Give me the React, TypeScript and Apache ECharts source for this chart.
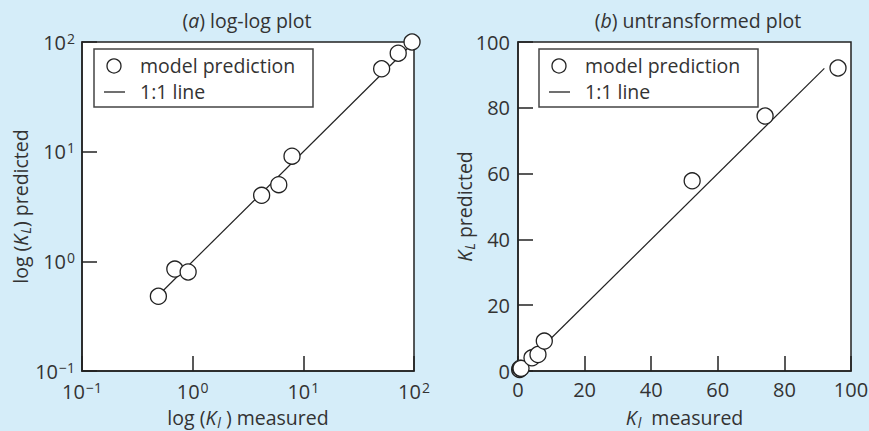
import React, { useEffect, useRef } from "react";
import * as echarts from "echarts";

// Panel (a): log-log plot
const logMeasured = [0.49, 0.69, 0.91, 4.2, 6.0, 7.9, 51, 72, 96];
const logPredicted = [0.48, 0.85, 0.8, 4.0, 5.0, 9.1, 57, 79, 100];
const logOneToOne = [0.52, 100];

// Panel (b): untransformed plot
const linMeasured = [0.49, 0.69, 0.91, 4.2, 6.0, 7.9, 52.3, 74.2, 96.1];
const linPredicted = [0.48, 0.85, 0.8, 4.0, 5.0, 9.1, 57.8, 77.5, 92.1];
const linOneToOne = [0, 92];

const linTicks = [0, 20, 40, 60, 80, 100];
const logTicks = [0.1, 1, 10, 100];

const titles = ["(a) log-log plot", "(b) untransformed plot"];
const legendLabels = ["model prediction", "1:1 line"];

const FONT = "'Open Sans', Lato, sans-serif";
const FS = 19.5;
const TFS = 20;
const INK = "#222";
const TXT = "#333";
const BG = "#d5edf9";

const supFmt = (v: number) => {
  const e = Math.round(Math.log10(v));
  return "{b|10}{sup|" + (e < 0 ? "\u2212" + Math.abs(e) : String(e)) + "}";
};

const tickRich = {
  b: { fontSize: TFS, fontFamily: FONT, color: TXT, lineHeight: 22 },
  sup: { fontSize: 14, fontFamily: FONT, color: TXT, verticalAlign: "top", lineHeight: 22, padding: [0, 0, 9, 1] },
};

const nameRich = {
  n: { fontSize: FS, fontFamily: FONT, color: TXT, lineHeight: 24 },
  i: { fontSize: FS, fontFamily: FONT, color: TXT, fontStyle: "italic", lineHeight: 24 },
  sub: { fontSize: 14, fontFamily: FONT, color: TXT, fontStyle: "italic", lineHeight: 14, verticalAlign: "bottom", padding: [0, 0, 0, 1] },
};

function axisBase() {
  return {
    axisLine: { show: true, onZero: false, lineStyle: { color: INK, width: 1.5 } },
    axisTick: { show: true, inside: true, length: 15, lineStyle: { color: INK, width: 1.5 } },
    splitLine: { show: false },
    nameLocation: "middle" as const,
    nameMoveOverlap: false,
  };
}

export default function App() {
  const ref = useRef<HTMLDivElement>(null);
  useEffect(() => {
    if (!ref.current) return;
    const chart = echarts.init(ref.current, null, { renderer: "svg" });
    const legendGraphic = (x: number) => ({
      type: "group",
      children: [
        { type: "rect", shape: { x: x, y: 49, width: 219, height: 58 }, style: { fill: "#fff", stroke: "#444", lineWidth: 1.5 } },
        { type: "circle", shape: { cx: x + 20, cy: 66, r: 7 }, style: { fill: "#fff", stroke: INK, lineWidth: 1.3 } },
        { type: "line", shape: { x1: x + 10, y1: 92, x2: x + 31, y2: 92 }, style: { stroke: INK, lineWidth: 1.3 } },
        { type: "text", x: x + 46, y: 65, style: { text: legendLabels[0], font: FS + "px " + FONT, fill: TXT, verticalAlign: "middle" } },
        { type: "text", x: x + 46, y: 91, style: { text: legendLabels[1], font: FS + "px " + FONT, fill: TXT, verticalAlign: "middle" } },
      ],
    });
    const titleText = (x: number, label: string) => {
      const m = label.match(/^\((.)\)(.*)$/);
      return {
        type: "text",
        x,
        y: 20,
        style: {
          text: m ? "(" + "{i|" + m[1] + "})" + m[2] : label,
          font: FS + "px " + FONT,
          fill: TXT,
          align: "center",
          verticalAlign: "middle",
          rich: { i: { fontStyle: "italic", fontSize: FS, fontFamily: FONT, fill: TXT } },
        },
      };
    };
    const gridBase = {
      top: 42,
      height: 329,
      show: true,
      backgroundColor: "#fff",
      borderColor: INK,
      borderWidth: 1.5,
      containLabel: false,
      outerBoundsMode: "none",
    };
    const option: any = {
      animation: false,
      backgroundColor: BG,
      grid: [
        { ...gridBase, left: 82, width: 332 },
        { ...gridBase, left: 518, width: 333 },
      ],
      xAxis: [
        {
          ...axisBase(),
          gridIndex: 0,
          type: "log",
          logBase: 10,
          min: logTicks[0],
          max: logTicks[logTicks.length - 1],
          axisLabel: { formatter: supFmt, rich: tickRich, margin: 9 },
          name: "{n|log (}{i|K}{sub|l}{n| ) measured}",
          nameGap: 34,
          nameTextStyle: { rich: nameRich },
        },
        {
          ...axisBase(),
          gridIndex: 1,
          type: "value",
          min: linTicks[0],
          max: linTicks[linTicks.length - 1],
          interval: 20,
          axisLabel: { fontSize: TFS, fontFamily: FONT, color: TXT, margin: 8 },
          name: "{i|K}{sub|l}{n|  measured}",
          nameGap: 34,
          nameTextStyle: { rich: nameRich },
        },
      ],
      yAxis: [
        {
          ...axisBase(),
          gridIndex: 0,
          type: "log",
          logBase: 10,
          min: logTicks[0],
          max: logTicks[logTicks.length - 1],
          axisLabel: { formatter: supFmt, rich: tickRich, margin: 7 },
          name: "{n|log (}{i|K}{sub|L}{n|) predicted}",
          nameRotate: 90,
          nameGap: 50,
          nameTextStyle: { rich: nameRich },
        },
        {
          ...axisBase(),
          gridIndex: 1,
          type: "value",
          min: linTicks[0],
          max: linTicks[linTicks.length - 1],
          interval: 20,
          axisLabel: { fontSize: TFS, fontFamily: FONT, color: TXT, margin: 8 },
          name: "{i|K}{sub|L}{n| predicted}",
          nameRotate: 90,
          nameGap: 42,
          nameTextStyle: { rich: nameRich },
        },
      ],
      series: [
        {
          name: legendLabels[1],
          type: "line",
          xAxisIndex: 0,
          yAxisIndex: 0,
          data: logOneToOne.map((v) => [v, v]),
          symbol: "none",
          lineStyle: { color: INK, width: 1.2 },
          z: 2,
        },
        {
          name: legendLabels[0],
          type: "scatter",
          xAxisIndex: 0,
          yAxisIndex: 0,
          data: logMeasured.map((x, i) => [x, logPredicted[i]]),
          symbol: "circle",
          symbolSize: 16,
          itemStyle: { color: "#fff", borderColor: INK, borderWidth: 1.3, opacity: 1 },
          clip: false,
          z: 3,
        },
        {
          name: legendLabels[1],
          type: "line",
          xAxisIndex: 1,
          yAxisIndex: 1,
          data: linOneToOne.map((v) => [v, v]),
          symbol: "none",
          lineStyle: { color: INK, width: 1.2 },
          z: 2,
        },
        {
          name: legendLabels[0],
          type: "scatter",
          xAxisIndex: 1,
          yAxisIndex: 1,
          data: linMeasured.map((x, i) => [x, linPredicted[i]]),
          symbol: "circle",
          symbolSize: 16,
          itemStyle: { color: "#fff", borderColor: INK, borderWidth: 1.3, opacity: 1 },
          clip: false,
          z: 3,
        },
      ],
      graphic: [
        titleText(247, titles[0]),
        titleText(698, titles[1]),
        legendGraphic(94),
        legendGraphic(539),
      ],
    };
    chart.setOption(option);
    return () => chart.dispose();
  }, []);
  return (
    <div
      ref={ref}
      style={{ position: "absolute", left: 0, top: 0, width: 869, height: 431 }}
    />
  );
}
